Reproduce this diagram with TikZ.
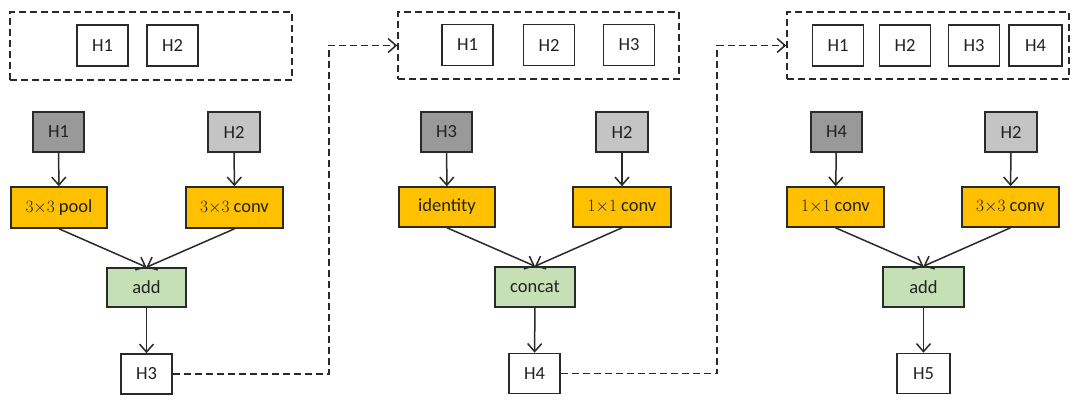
\documentclass[tikz,border=0pt]{standalone}
\usepackage{fontspec}
\setmainfont{Carlito}
\usetikzlibrary{arrows.meta}
\definecolor{dg}{HTML}{999999}
\definecolor{lg}{HTML}{C4C4C4}
\definecolor{og}{HTML}{FFC000}
\definecolor{gn}{HTML}{C5E0B4}
\definecolor{ln}{HTML}{2A2A2A}
\definecolor{tx}{HTML}{222222}
\tikzset{
  base/.style={draw=ln, line width=1.6pt, inner sep=0pt, text=tx, font=\fontsize{18.5}{20}\selectfont},
  wbox/.style={base, fill=white, minimum width=51pt, minimum height=41pt},
  dbox/.style={base, fill=dg, minimum width=51pt, minimum height=40pt},
  lbox/.style={base, fill=lg, minimum width=52pt, minimum height=40pt},
  obox/.style={base, fill=og, minimum width=97pt, minimum height=41pt},
  gbox/.style={base, fill=gn, minimum width=80pt, minimum height=40pt},
  dash box/.style={draw=ln, line width=1.6pt, dash pattern=on 7pt off 4pt, inner sep=0pt},
  arr/.style={draw=ln, line width=1.5pt, -{Straight Barb[length=8pt,width=14pt,line width=1.5pt]}},
  darr/.style={arr, dash pattern=on 7pt off 4pt}
}
\begin{document}
\begin{tikzpicture}[x=1pt,y=-1pt]
\path[use as bounding box, fill=white] (0,0) rectangle (1080,417);
% panel 1
\node[dash box, minimum width=282pt, minimum height=68pt] (d1) at (151,46) {};
\node[wbox] (t11) at (102.5,45.5) {H1};
\node[wbox] (t12) at (172.5,45.5) {H2};
\node[dbox] (g11) at (58.5,132) {H1};
\node[lbox] (g12) at (234,132) {H2};
\node[obox, minimum width=96pt] (o11) at (59,207.5) {$3{\times}3$ pool};
\node[obox] (o12) at (234.5,207.5) {$3{\times}3$ conv};
\node[gbox, minimum width=79pt, minimum height=39pt] (a1) at (146.5,287.5) {add};
\node[wbox, minimum height=40pt] (h3) at (146.5,374) {H3};
\draw[arr] (g11) -- (o11);
\draw[arr] (g12) -- (o12);
\draw[arr] (o11.south) -- (a1.north);
\draw[arr] (o12.south) -- (a1.north);
\draw[arr] (a1) -- (h3);
% panel 2
\node[dash box, minimum width=281pt, minimum height=67pt] (d2) at (538.5,45.5) {};
\node[wbox] (t21) at (467.5,45) {H1};
\node[wbox] (t22) at (549,45) {H2};
\node[wbox] (t23) at (629,45) {H3};
\node[dbox] (g21) at (446.5,132) {H3};
\node[lbox] (g22) at (622,132) {H2};
\node[obox, minimum width=96pt, minimum height=40pt] (o21) at (447,207) {identity};
\node[obox, minimum width=98pt, minimum height=40pt] (o22) at (622,207) {$1{\times}1$ conv};
\node[gbox] (a2) at (535,287) {concat};
\node[wbox, minimum height=40pt] (h4) at (534.5,373.5) {H4};
\draw[arr] (g21) -- (o21);
\draw[arr] (g22) -- (o22);
\draw[arr] (o21.south) -- (a2.north);
\draw[arr] (o22.south) -- (a2.north);
\draw[arr] (a2) -- (h4);
% panel 3
\node[dash box, minimum width=282pt, minimum height=67pt] (d3) at (928,45.5) {};
\node[wbox] (t31) at (838,45.5) {H1};
\node[wbox] (t32) at (905,45.5) {H2};
\node[wbox] (t33) at (974,45.5) {H3};
\node[wbox, minimum width=53pt] (t34) at (1035.5,45.5) {H4};
\node[dbox] (g31) at (836.5,132) {H4};
\node[lbox] (g32) at (1011,132) {H2};
\node[obox, minimum height=40pt] (o31) at (835.5,207) {$1{\times}1$ conv};
\node[obox, minimum height=40pt] (o32) at (1010.5,207) {$3{\times}3$ conv};
\node[gbox, minimum width=81pt] (a3) at (923.5,287) {add};
\node[wbox, minimum width=53pt, minimum height=40pt] (h5) at (923.5,373.5) {H5};
\draw[arr] (g31) -- (o31);
\draw[arr] (g32) -- (o32);
\draw[arr] (o31.south) -- (a3.north);
\draw[arr] (o32.south) -- (a3.north);
\draw[arr] (a3) -- (h5);
% dashed links
\coordinate (c1) at (329,374);
\coordinate (c2) at (717,373.5);
\draw[darr] (h3.east) -- (c1) |- (d2.west);
\draw[darr] (h4.east) -- (c2) |- (d3.west);
\end{tikzpicture}
\end{document}
